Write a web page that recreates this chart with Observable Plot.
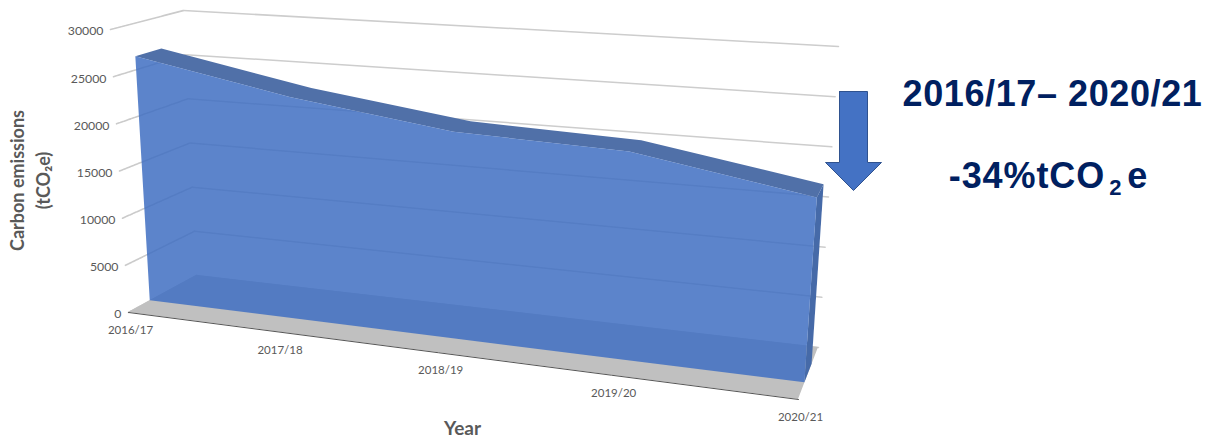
<!DOCTYPE html>
<html>
<head>
<meta charset="utf-8">
<script src="https://cdn.jsdelivr.net/npm/d3@7"></script>
<script src="https://cdn.jsdelivr.net/npm/@observablehq/plot@0.6"></script>
<style>html,body{margin:0;padding:0;background:#fff}svg{display:block}</style>
</head>
<body>
<div id="chart"></div>
<script>
const years = ["2016/17", "2017/18", "2018/19", "2019/20", "2020/21"];
const emissions = [26400, 23200, 20900, 20300, 17400];
const valueTicks = [0, 5000, 10000, 15000, 20000, 25000, 30000];

// library scales: category -> [0,1], value -> [0,1]
const yearScale = Plot.scale({x: {type: "point", domain: years, range: [0, 1], padding: 0}});
const valueScale = Plot.scale({y: {type: "linear", domain: [0, 30000], range: [0, 1]}});

// camera of the 3-D chart: screen position of the eight corners of its box
const camera = {
  near: {left: {base: [128, 312], top: [110, 29]}, right: {base: [798, 399], top: [820, 72]}},
  far:  {left: {base: [196, 275], top: [183, 10]}, right: {base: [818, 347], top: [838, 46]}}
};
const foreshorten = 1.16;
const faceDepth = [0.32, 0.68];
const lerp = (a, b, t) => [a[0] + (b[0] - a[0]) * t, a[1] + (b[1] - a[1]) * t];
function project(year, value, depth) {
  const u = yearScale.apply(year);
  const t = u / (u + foreshorten * (1 - u));
  const v = valueScale.apply(value);
  const side = (s) => lerp(lerp(camera.near[s].base, camera.near[s].top, v),
                           lerp(camera.far[s].base, camera.far[s].top, v), depth);
  return lerp(side("left"), side("right"), t);
}
const first = years[0], last = years[years.length - 1];
const rows = years.map((year, k) => ({year, value: emissions[k]}));

const px = (f) => (d) => f(d)[0];
const py = (f) => (d) => f(d)[1];

const wings = valueTicks.flatMap((value) => [
  {value, p: project(first, value, 0)},
  {value, p: project(first, value, 1)}
]);
const walls = valueTicks.flatMap((value) => [
  {value, p: project(first, value, 1)},
  {value, p: project(last, value, 1)}
]);

// annotation arrow outline
const arrow = {cx: 853, top: 91, neck: 162, tip: 190, shaft: 14, head: 28};
const arrowOutline = [
  [arrow.cx - arrow.shaft, arrow.top], [arrow.cx + arrow.shaft, arrow.top],
  [arrow.cx + arrow.shaft, arrow.neck], [arrow.cx + arrow.head, arrow.neck],
  [arrow.cx, arrow.tip], [arrow.cx - arrow.head, arrow.neck],
  [arrow.cx - arrow.shaft, arrow.neck], [arrow.cx - arrow.shaft, arrow.top]
];

const sideRows = [0, emissions[emissions.length - 1]];
const sans = "Lato, 'Open Sans', sans-serif";
const callout = "'Liberation Sans', Arial, sans-serif";
const navy = "#002060";
const rangeLabel = "2016/17– 2020/21";
const changeLabel = "-34%tCO2e";

const chart = Plot.plot({
  width: 1212, height: 441,
  marginTop: 0, marginRight: 0, marginBottom: 0, marginLeft: 0,
  x: {type: "linear", domain: [0, 1212], range: [0, 1212], axis: null},
  y: {type: "linear", domain: [0, 441], range: [0, 441], axis: null},
  marks: [
    // gridlines
    Plot.line(wings, {x: (d) => d.p[0], y: (d) => d.p[1], z: "value", stroke: "#cbcbcb", strokeWidth: 1.6, strokeDasharray: "3 1"}),
    Plot.line(walls, {x: (d) => d.p[0], y: (d) => d.p[1], z: "value", stroke: "#cdcdcd", strokeWidth: 1.5}),
    // floor
    Plot.area(years, {
      x1: px((y) => project(y, 0, 0)), y1: py((y) => project(y, 0, 0)),
      x2: px((y) => project(y, 0, 1)), y2: py((y) => project(y, 0, 1)),
      fill: "#c0c0c0"
    }),
    Plot.line(years, {x: px((y) => project(y, 0, 0)), y: py((y) => project(y, 0, 0)), stroke: "#555", strokeWidth: 1}),
    // top of the series
    Plot.area(rows, {
      x1: px((d) => project(d.year, d.value, faceDepth[0])), y1: py((d) => project(d.year, d.value, faceDepth[0])),
      x2: px((d) => project(d.year, d.value, faceDepth[1])), y2: py((d) => project(d.year, d.value, faceDepth[1])),
      fill: "#5070a8"
    }),
    // right side of the series
    Plot.area(sideRows, {
      x1: px((v) => project(last, v, faceDepth[0])), y1: py((v) => project(last, v, faceDepth[0])),
      x2: px((v) => project(last, v, faceDepth[1])), y2: py((v) => project(last, v, faceDepth[1])),
      fill: "#466aa8"
    }),
    // front of the series, translucent
    Plot.area(rows, {
      x1: px((d) => project(d.year, 0, faceDepth[0])), y1: py((d) => project(d.year, 0, faceDepth[0])),
      x2: px((d) => project(d.year, d.value, faceDepth[0])), y2: py((d) => project(d.year, d.value, faceDepth[0])),
      fill: "#3f6fc2", fillOpacity: 0.85
    }),
    // tick labels
    Plot.text(valueTicks, {
      x: px((v) => project(first, v, 0)), y: py((v) => project(first, v, 0)),
      text: (v) => String(v), textAnchor: "end", dx: -7, dy: 2,
      fontFamily: sans, fontSize: 12.3, fill: "#595959"
    }),
    Plot.text(years, {
      x: px((y) => project(y, 0, 0)), y: py((y) => project(y, 0, 0)),
      text: (y) => y, dx: 2, dy: 18,
      fontFamily: sans, fontSize: 11.5, fill: "#595959"
    }),
    // axis titles
    Plot.text(["Year"], {x: () => 462, y: () => 428, text: (d) => d, fontFamily: sans, fontWeight: 700, fontSize: 19, fill: "#595959"}),
    Plot.text(["Carbon emissions", "(tCO₂e)"], {
      x: (d, i) => 18 + i * 26, y: () => 180, text: (d) => d, rotate: -90,
      fontFamily: sans, fontWeight: 700, fontSize: 18, fill: "#595959"
    }),
    // arrow
    Plot.line(arrowOutline, {x: "0", y: "1", fill: "#4472c4", stroke: "#2f528f", strokeWidth: 1}),
    // callout
    Plot.text([rangeLabel], {
      x: () => 1052, y: () => 94, text: (d) => d,
      fontFamily: callout, fontWeight: 700, fontSize: 36, fill: navy
    }),
    Plot.text([changeLabel], {
      x: () => 1048, y: () => 176, text: (d) => d,
      fontFamily: callout, fontWeight: 700, fontSize: 36, fill: navy
    })
  ]
});
const texts = [...chart.querySelectorAll("text")];
const rangeText = texts.find((t) => t.textContent === rangeLabel);
if (rangeText) rangeText.setAttribute("letter-spacing", "0.6");
// subscript "2" of the change label, kept in one text element
const label = texts.find((t) => t.textContent === changeLabel);
if (label) {
  label.setAttribute("letter-spacing", "0.9");
  const [head, tail] = changeLabel.split("2");
  const host = d3.select(label.querySelector("tspan") || label);
  host.text(null);
  host.append("tspan").text(head);
  host.append("tspan").attr("dx", 4).attr("dy", 7).attr("font-size", 22).text("2");
  host.append("tspan").attr("dx", 5).attr("dy", -7).text(tail);
}
document.getElementById("chart").append(chart);
</script>
</body>
</html>
